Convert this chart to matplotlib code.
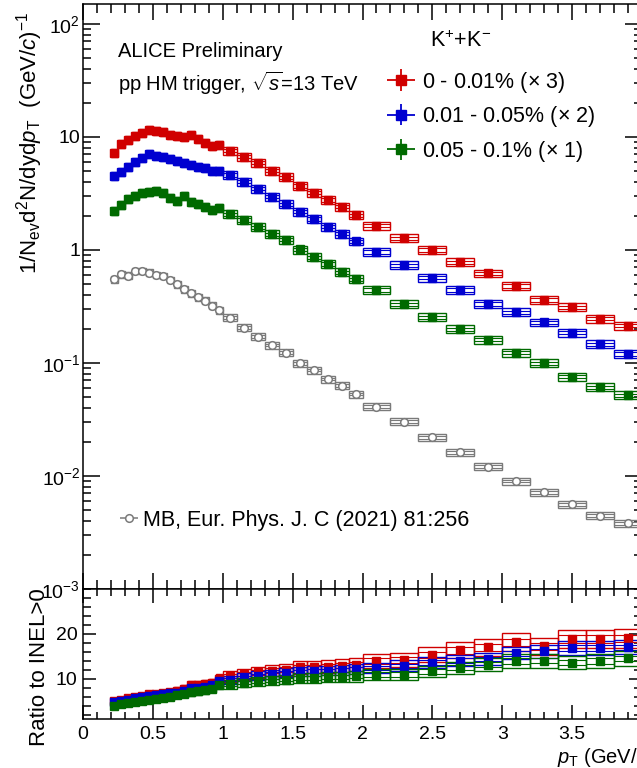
import numpy as np
import matplotlib
matplotlib.use("Agg")
import matplotlib.pyplot as plt
from matplotlib.patches import Rectangle
from matplotlib.ticker import MultipleLocator, LogLocator, NullFormatter
from matplotlib.legend_handler import HandlerErrorbar
from matplotlib.container import ErrorbarContainer

# pT bin edges (GeV/c)
pt_edges = [0.20, 0.25, 0.30, 0.35, 0.40, 0.45, 0.50, 0.55, 0.60, 0.65, 0.70, 0.75,
            0.80, 0.85, 0.90, 0.95, 1.00, 1.10, 1.20, 1.30, 1.40, 1.50, 1.60, 1.70,
            1.80, 1.90, 2.00, 2.20, 2.40, 2.60, 2.80, 3.00, 3.20, 3.40, 3.60, 3.80, 4.00]

# spectra (already scaled)
spec_0_001 = [7.26, 8.61, 9.4, 10.2, 10.8, 11.5, 11.3, 11.0, 10.4, 10.2, 9.94, 10.4,
              9.55, 8.8, 8.32, 8.5, 7.56, 6.7, 5.92, 5.03, 4.4, 3.68, 3.21, 2.77,
              2.42, 2.03, 1.64, 1.27, 1.0, 0.78, 0.62, 0.48, 0.361, 0.311, 0.247, 0.214]
spec_001_005 = [4.55, 4.93, 5.46, 5.97, 6.56, 7.03, 6.79, 6.61, 6.35, 6.17, 5.92, 5.65,
                5.46, 5.28, 5.03, 5.03, 4.61, 4.02, 3.47, 2.96, 2.54, 2.18, 1.88, 1.61,
                1.39, 1.19, 0.96, 0.732, 0.569, 0.443, 0.333, 0.281, 0.229, 0.185, 0.147, 0.120]
spec_005_01 = [2.21, 2.50, 2.81, 3.0, 3.18, 3.28, 3.33, 3.18, 2.87, 2.73, 3.0, 2.68,
               2.54, 2.42, 2.26, 2.34, 2.07, 1.84, 1.59, 1.38, 1.23, 1.01, 0.862, 0.751,
               0.635, 0.551, 0.443, 0.331, 0.254, 0.199, 0.160, 0.123, 0.0994, 0.0757, 0.061, 0.052]
spec_mb = [0.551, 0.609, 0.593, 0.652, 0.652, 0.630, 0.601, 0.589, 0.543, 0.497, 0.449, 0.414,
           0.381, 0.356, 0.321, 0.294, 0.252, 0.205, 0.171, 0.144, 0.123, 0.0994, 0.0867, 0.0722,
           0.063, 0.0532, 0.041, 0.0303, 0.022, 0.0162, 0.0121, 0.00903, 0.00718, 0.00562, 0.00446, 0.00381]

# ratios to INEL>0
ratio_0_001 = [5.0, 5.3, 5.6, 5.9, 6.2, 6.5, 6.6, 6.8, 7.0, 7.3, 7.8, 8.6,
               8.5, 8.7, 9.0, 10.0, 10.5, 11.0, 11.4, 11.8, 12.0, 12.5, 12.6, 12.7,
               12.9, 13.1, 13.9, 14.2, 15.3, 16.3, 17.0, 18.1, 17.2, 18.8, 18.8, 19.0]
ratio_001_005 = [4.7, 5.0, 5.3, 5.6, 5.9, 6.1, 6.3, 6.5, 6.7, 6.9, 7.3, 7.9,
                 8.0, 8.2, 8.5, 9.4, 9.8, 10.3, 10.7, 11.0, 11.3, 11.6, 11.7, 11.8,
                 12.0, 12.1, 12.4, 12.9, 13.6, 14.0, 14.4, 15.7, 16.1, 16.8, 16.8, 17.0]
ratio_005_01 = [4.0, 4.3, 4.5, 4.8, 5.0, 5.3, 5.5, 5.7, 6.0, 6.3, 6.6, 7.0,
                7.2, 7.5, 7.8, 8.6, 8.7, 9.1, 9.4, 9.6, 9.8, 10.1, 10.2, 10.3,
                10.4, 10.5, 10.9, 10.9, 11.6, 12.4, 13.1, 13.9, 14.0, 13.6, 13.9, 14.5]

# relative systematic uncertainties
sys_spec_hm = 0.08
sys_spec_mb = 0.07
sys_ratio = [0.11, 0.09, 0.11]

labels = ["0 - 0.01% ($\\times$ 3)", "0.01 - 0.05% ($\\times$ 2)", "0.05 - 0.1% ($\\times$ 1)"]
colors = ["#d00000", "#0000d0", "#006a00"]
gray = "#7a7a7a"

font = "Liberation Sans"
plt.rcParams["font.family"] = [font, "DejaVu Sans"]
plt.rcParams["mathtext.fontset"] = "custom"
plt.rcParams["mathtext.rm"] = font
plt.rcParams["mathtext.it"] = font + ":italic"
plt.rcParams["mathtext.bf"] = font + ":bold"

edges = np.array(pt_edges)
lo, hi = edges[:-1], edges[1:]
pt = 0.5 * (lo + hi)
zeros = np.zeros_like(pt)


def draw_boxes(ax, vals, rel, col, inner=0.4):
    for x0, x1, v in zip(lo, hi, vals):
        ax.add_patch(Rectangle((x0, v * (1 - rel)), x1 - x0, 2 * v * rel,
                               fill=False, ec=col, lw=1.0, zorder=2))
        ax.add_patch(Rectangle((x0, v * (1 - rel * inner)), x1 - x0, 2 * v * rel * inner,
                               fill=False, ec=col, lw=0.8, zorder=2))


fig = plt.figure(figsize=(6.37, 7.68), dpi=100)
W, H = 637, 768
x0px, x1px = 83, 642
ax = fig.add_axes([x0px / W, 1 - 589 / H, (x1px - x0px) / W, (589 - 4) / H])
axr = fig.add_axes([x0px / W, 1 - 719 / H, (x1px - x0px) / W, (719 - 589) / H])

handles = []
for vals, col, lab in zip([spec_0_001, spec_001_005, spec_005_01], colors, labels):
    draw_boxes(ax, vals, sys_spec_hm, col)
    h = ax.errorbar(pt, vals, xerr=zeros, yerr=zeros, fmt="s", color=col, ms=6,
                    elinewidth=1.3, capsize=0, zorder=3, label=lab)
    handles.append(h)
draw_boxes(ax, spec_mb, sys_spec_mb, gray)
h_mb = ax.errorbar(pt, spec_mb, xerr=zeros, fmt="o", color=gray, mfc="white", mec=gray,
                   mew=1.1, ms=5.5, elinewidth=1.1, capsize=0, zorder=3,
                   label="MB, Eur. Phys. J. C (2021) 81:256")

for vals, col, rel in zip([ratio_0_001, ratio_001_005, ratio_005_01], colors, sys_ratio):
    draw_boxes(axr, vals, rel, col)
    axr.errorbar(pt, vals, fmt="s", color=col, ms=6, zorder=3)

ax.set_yscale("log")
ax.set_xlim(0, 4)
ax.set_ylim(1e-3, 150)
ax.set_yticks([1e-3, 1e-2, 1e-1, 1, 10, 100],
              ["$10^{-3}$", "$10^{-2}$", "$10^{-1}$", "1", "10", "$10^{2}$"])
ax.yaxis.set_minor_locator(LogLocator(base=10, subs=np.arange(2, 10), numticks=20))
ax.yaxis.set_minor_formatter(NullFormatter())
ax.xaxis.set_major_locator(MultipleLocator(0.5))
ax.xaxis.set_minor_locator(MultipleLocator(0.1))
ax.tick_params(which="both", direction="in", top=True, right=True, width=1.1,
               labelsize=14, pad=2)
ax.tick_params(axis="x", which="major", length=11.5)
ax.tick_params(axis="x", which="minor", length=6.5)
ax.tick_params(axis="y", which="major", length=12)
ax.tick_params(axis="y", which="minor", length=6)
ax.tick_params(axis="x", labelbottom=False)

axr.set_xlim(0, 4)
axr.set_ylim(1, 30)
axr.set_yticks([10, 20])
axr.yaxis.set_minor_locator(MultipleLocator(2))
axr.xaxis.set_minor_locator(MultipleLocator(0.1))
axr.set_xticks([0, 0.5, 1, 1.5, 2, 2.5, 3, 3.5, 4],
               ["0", "0.5", "1", "1.5", "2", "2.5", "3", "3.5", "4"])
axr.tick_params(which="both", direction="in", top=True, right=True, width=1.1,
                labelsize=14)
axr.tick_params(axis="x", which="major", length=10, pad=5)
axr.tick_params(axis="x", which="minor", length=5)
axr.tick_params(axis="y", which="major", length=9.5, pad=4)
axr.tick_params(axis="y", which="minor", length=5.5)

for a in (ax, axr):
    for s in a.spines.values():
        s.set_linewidth(1.1)

ax.text(0.0626, 0.909, "ALICE Preliminary", transform=ax.transAxes, fontsize=14.5,
        va="baseline")
ax.text(0.0626, 0.851, "pp HM trigger, $\\sqrt{\\mathit{s}}$=13 TeV", transform=ax.transAxes,
        fontsize=14.5, va="baseline")
ax.text(0.675, 0.936, "K$^{+}$+K$^{-}$", transform=ax.transAxes, fontsize=15.5,
        ha="center", va="center")

leg = ax.legend(handles=handles, loc="upper left", bbox_to_anchor=(0.544, 0.888),
                frameon=False, fontsize=15.5, borderpad=0, borderaxespad=0,
                handlelength=1.3, handletextpad=0.33, labelspacing=0.45, markerscale=1.1,
                handler_map={ErrorbarContainer: HandlerErrorbar(xerr_size=0.65, yerr_size=0.49)})
ax.add_artist(leg)
ax.legend(handles=[h_mb], loc="upper left", bbox_to_anchor=(0.066, 0.135),
          frameon=False, fontsize=15.5, borderpad=0, borderaxespad=0,
          handlelength=0.84, handletextpad=0.25,
          handler_map={ErrorbarContainer: HandlerErrorbar(xerr_size=0.42)})

fig.text(30 / W, 1 - 143 / H,
         "1/N$_{\\rm ev}$d$^{2}$N/dyd$\\mathit{p}_{\\rm T}$  (GeV/$\\mathit{c}$)$^{-1}$",
         rotation=90, ha="center", va="center", fontsize=16)
fig.text(40 / W, 1 - 667 / H, "Ratio to INEL>0", rotation=90, ha="center", va="center",
         fontsize=16)
axr.text(0.848, -0.335, "$\\mathit{p}_{\\rm T}$ (GeV/$\\mathit{c}$)", transform=axr.transAxes,
         fontsize=14.5, va="baseline", ha="left", clip_on=False)

fig.savefig("out.png", dpi=100)
